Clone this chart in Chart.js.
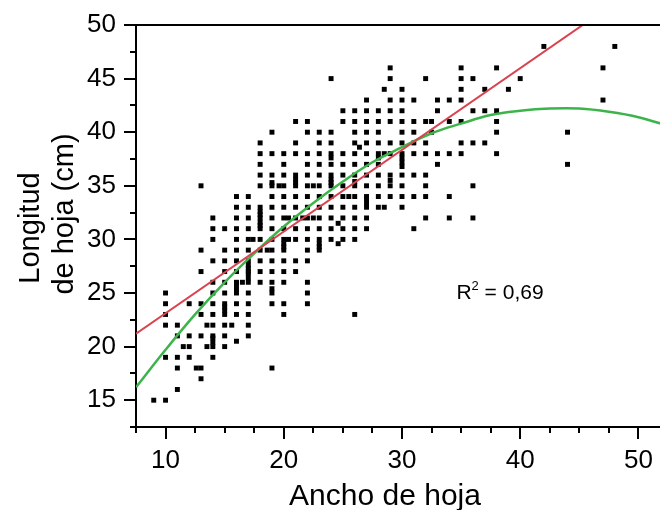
<!DOCTYPE html>
<html lang="es">
<head>
<meta charset="UTF-8">
<script src="https://cdn.jsdelivr.net/npm/chart.js"></script>
<style>
  html, body { margin: 0; padding: 0; overflow: hidden; background: #fff; }
  #caja { width: 672px; height: 510px; }
</style>
<title>Ancho vs longitud de hoja</title>
</head>
<body>
<div id="caja"><canvas id="grafico"></canvas></div>
<script>
var anchoCols = [9, 10, 11, 11.5, 12, 12.6, 13, 13.5, 14, 15, 15.6, 16, 16.5, 17, 17.4, 18, 18.6, 19, 19.6,
    20, 20.4, 21, 21.6, 22, 22.5, 23, 24, 24.6, 25, 25.5, 26, 26.4, 27, 28, 28.5, 29, 30, 31, 32, 32.5,
    33, 34, 35, 36, 37, 38, 39, 40, 42, 44, 47, 48]
var longitudCols = [
    [15],
    [25, 24, 23, 22, 19, 15],
    [22, 21, 19, 18, 16],
    [20],
    [24, 21, 20, 19],
    [18],
    [35, 29, 27, 24, 23, 21, 18, 17],
    [22, 20],
    [32, 31, 30, 28, 26, 25, 24, 23, 22, 21, 20.8, 20.4, 20, 19],
    [31, 29, 28, 27, 26, 25, 24, 23.7, 23.4, 23, 22, 21, 20],
    [22],
    [34, 33, 32, 31, 30, 29, 28, 27, 26, 25.8, 25.4, 25, 24, 23, 20.5],
    [26],
    [34, 33, 32, 31, 30, 29, 28, 27.6, 27.3, 27, 26.8, 26.4, 26, 25, 24, 23, 22, 21],
    [30],
    [39, 38, 37, 36, 35, 33, 32.6, 32.3, 32, 31.6, 31.3, 31, 30, 29, 28, 27, 26],
    [29],
    [40, 38, 36, 35.3, 35, 34, 33, 32, 31, 30, 29, 28, 27, 26, 25.4, 25, 24, 18],
    [35],
    [38, 37, 36, 35, 34, 33, 32, 31, 30, 29.6, 29.3, 29, 28, 27, 26, 24, 23],
    [32, 30],
    [41, 39, 38, 36, 35.6, 35.3, 35, 34, 33, 32, 31, 30, 28, 27],
    [32],
    [41, 40, 38, 37, 36, 35, 34, 33, 32, 31, 30, 29, 28, 26, 25, 24],
    [35, 32],
    [40, 39, 38, 37, 36, 35, 34, 33, 32, 31, 30, 29.6, 29.3, 29],
    [45, 40, 39, 38, 37.6, 37, 36, 35.6, 35.3, 35, 34, 33, 32, 31, 30],
    [31.5, 29.6],
    [42, 41, 38, 37, 36, 35, 34, 33, 32, 31, 30],
    [34],
    [42, 41, 40, 39, 38, 37, 36, 35.4, 35, 34, 33, 32, 31, 30, 23],
    [38.6],
    [43, 42, 41, 40, 39, 38, 37, 36, 35, 34, 33.8, 33.4, 33, 32, 31],
    [42, 41, 40, 39, 38, 37.6, 37, 36, 35, 34, 33],
    [44, 38, 33],
    [46, 45, 43, 42, 41, 39, 38, 36, 35.5, 35, 34],
    [44, 43, 42, 41, 40, 39, 38, 37.6, 37.2, 36.8, 36, 35, 34, 33],
    [43, 41, 40, 39, 38, 36, 34, 31],
    [45, 41, 39, 38, 36, 35, 34, 32],
    [41, 40],
    [43, 42, 38, 37],
    [43, 41, 38, 34, 32],
    [46, 45, 44, 43, 41, 39, 38],
    [45, 42, 39, 35, 32],
    [44, 42, 39],
    [46, 42, 41, 40, 38],
    [44],
    [45],
    [48],
    [40, 37],
    [46, 43],
    [48]
]

// recta de regresion (extremos) y curva cuadratica
var rectaX = [7.5, 52.5]
var rectaY = [21.2, 55.5]
var curvaX = [7.5, 10, 12.5, 15, 17.5, 20, 22.5, 25, 27.5, 30, 32.5, 35, 37.5, 40, 42.5, 45, 47.5, 50, 52.5]
var curvaY = [16.2, 19.7, 23.0, 26.0, 28.7, 31.2, 33.4, 35.4, 37.2, 38.6, 39.9, 40.8, 41.6, 42.0, 42.2, 42.2, 41.9, 41.4, 40.6]

var tituloX = 'Ancho de hoja'
var tituloY = ['Longitud', 'de hoja (cm)']
var textoR2 = '0,69'
var fuente = "'Liberation Sans', Arial, sans-serif"

var puntos = []
for (var i = 0; i < anchoCols.length; i++) {
    for (var j = 0; j < longitudCols[i].length; j++) {
        puntos.push({ x: anchoCols[i], y: longitudCols[i][j] })
    }
}
var recta = rectaX.map(function (x, i) { return { x: x, y: rectaY[i] } })
var curva = curvaX.map(function (x, i) { return { x: x, y: curvaY[i] } })

// marcas de los ejes (mayores y menores), borde superior, titulos y texto R2
const marcasEjes = {
    id: 'marcasEjes',
    afterDraw(chart) {
        const ctx = chart.ctx
        const a = chart.chartArea
        const sx = chart.scales.x
        const sy = chart.scales.y
        ctx.save()
        ctx.strokeStyle = '#000'
        ctx.lineWidth = 2
        ctx.beginPath()
        sx.ticks.forEach(t => {
            const px = Math.round(sx.getPixelForValue(t.value))
            const largo = t.value % 10 === 0 ? 12 : 6
            ctx.moveTo(px, a.bottom)
            ctx.lineTo(px, a.bottom + largo)
        })
        sy.ticks.forEach(t => {
            const py = Math.round(sy.getPixelForValue(t.value))
            const largo = t.value % 5 === 0 ? 12 : 6
            ctx.moveTo(a.left, py)
            ctx.lineTo(a.left - largo, py)
        })
        ctx.moveTo(a.left, a.top)
        ctx.lineTo(a.right, a.top)
        ctx.stroke()

        ctx.fillStyle = '#000'

        // titulos de los ejes
        ctx.textAlign = 'center'
        ctx.textBaseline = 'middle'
        ctx.font = '30px ' + fuente
        ctx.fillText(tituloX, 385, 497)
        ctx.font = '29px ' + fuente
        ctx.save()
        ctx.translate(31, 228)
        ctx.rotate(-Math.PI / 2)
        ctx.fillText(tituloY[0], 0, 0)
        ctx.restore()
        ctx.save()
        ctx.translate(65, 214)
        ctx.rotate(-Math.PI / 2)
        ctx.fillText(tituloY[1], 0, 0)
        ctx.restore()

        // R² = 0,69
        ctx.textAlign = 'left'
        ctx.textBaseline = 'alphabetic'
        let x = sx.getPixelForValue(34.6)
        const y = sy.getPixelForValue(24.4)
        ctx.font = '21px ' + fuente
        ctx.fillText('R', x, y)
        x += ctx.measureText('R').width
        ctx.font = '13px ' + fuente
        ctx.fillText('2', x, y - 9)
        x += ctx.measureText('2').width
        ctx.font = '21px ' + fuente
        ctx.fillText(' = ' + textoR2, x, y)
        ctx.restore()
    }
}

new Chart(document.getElementById('grafico'), {
    type: 'scatter',
    data: {
        datasets: [{
            label: 'Lineal',
            data: recta,
            showLine: true,
            borderColor: '#d9434f',
            borderWidth: 2,
            pointRadius: 0,
            order: 1
        }, {
            label: 'Cuadratica',
            data: curva,
            showLine: true,
            tension: 0.4,
            borderColor: '#3cb44a',
            borderWidth: 2.5,
            pointRadius: 0,
            order: 2
        }, {
            label: 'Hojas',
            data: puntos,
            pointStyle: 'rect',
            pointRadius: 3.5,
            pointBorderWidth: 0,
            backgroundColor: '#000',
            order: 3
        }]
    },
    options: {
        responsive: true,
        maintainAspectRatio: false,
        animation: false,
        devicePixelRatio: 1,
        layout: { padding: { top: 25, right: 2, left: 0, bottom: 0 } },
        plugins: {
            legend: { display: false },
            tooltip: { enabled: false }
        },
        scales: {
            x: {
                type: 'linear',
                min: 7.5,
                max: 52.5,
                afterFit(s) { s.height = 83; s.paddingLeft = 0; s.paddingRight = 0 },
                grid: { display: false, drawTicks: false },
                border: { display: true, color: '#000', width: 2 },
                ticks: {
                    stepSize: 2.5,
                    autoSkip: false,
                    maxRotation: 0,
                    padding: 18,
                    color: '#000',
                    font: { family: fuente, size: 26 },
                    callback: function (v) { return v % 10 === 0 ? v : '' }
                }
            },
            y: {
                min: 12.5,
                max: 50,
                afterFit(s) { s.width = 136; s.paddingTop = 0; s.paddingBottom = 0 },
                grid: { display: false, drawTicks: false },
                border: { display: true, color: '#000', width: 2 },
                ticks: {
                    stepSize: 2.5,
                    autoSkip: false,
                    padding: 20,
                    color: '#000',
                    font: { family: fuente, size: 26 },
                    callback: function (v) { return v % 5 === 0 ? v : '' }
                }
            }
        }
    },
    plugins: [marcasEjes]
})
</script>
</body>
</html>
